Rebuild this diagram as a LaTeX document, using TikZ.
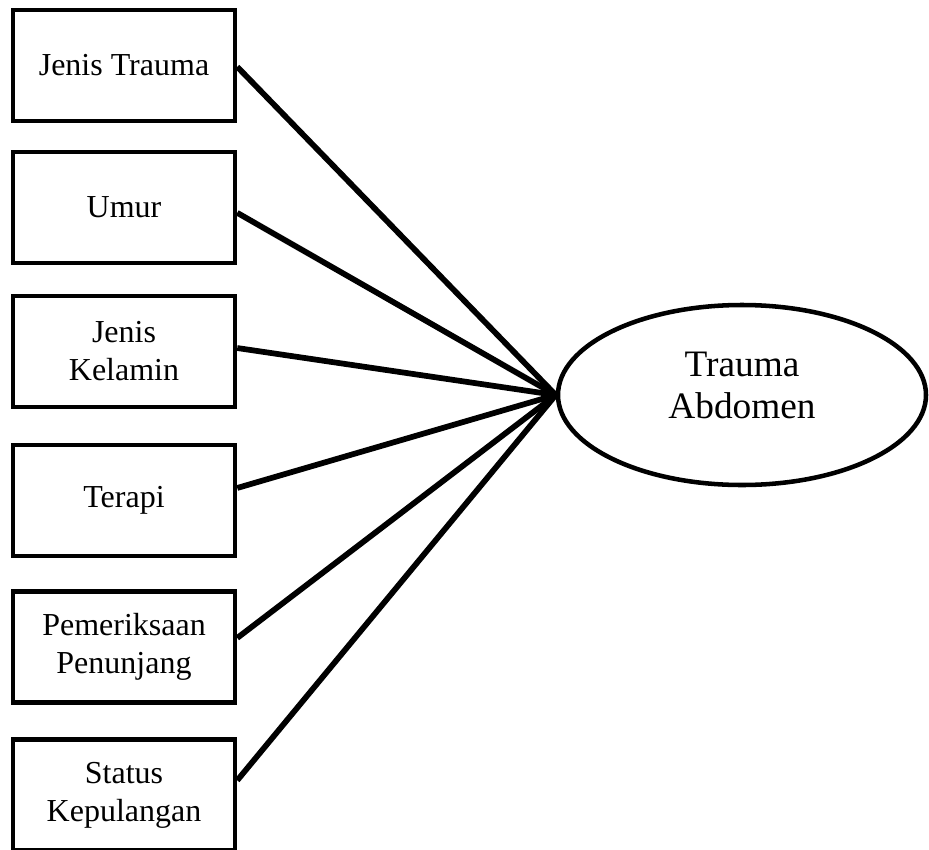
\documentclass[tikz,border=0pt]{standalone}
\usepackage{fontspec}
\setmainfont{Liberation Serif}
\usetikzlibrary{shapes.geometric}

\begin{document}
\begin{tikzpicture}[x=0.75pt, y=-0.75pt, line width=3.4pt]
    \tikzstyle{factor}=[rectangle, draw=black, minimum width=166.5pt, minimum height=83pt, inner sep=0pt, align=center, font=\fontsize{24}{28.5}\selectfont]
    \tikzstyle{outcome}=[ellipse, draw=black, minimum width=276pt, minimum height=135pt, inner sep=0pt, align=center, text depth=15pt, font=\fontsize{28}{31.5}\selectfont]
    \tikzstyle{link}=[line width=4.3pt]

    \useasboundingbox (0,0) rectangle (929,850);

    \node [factor] (jenis) at (124,65.5) {Jenis Trauma};
    \node [factor] (umur) at (124,207.5) {Umur};
    \node [factor] (kelamin) at (124,351.5) {Jenis\\Kelamin};
    \node [factor] (terapi) at (124,500.5) {Terapi};
    \node [factor] (periksa) at (124,647) {Pemeriksaan\\Penunjang};
    \node [factor] (pulang) at (124,795) {Status\\Kepulangan};

    \node [outcome] (trauma) at (742,395) {Trauma\\Abdomen};

    \draw [link] ([yshift=-1pt]jenis.east) -- (trauma.west);
    \draw [link] ([yshift=-4pt]umur.east) -- (trauma.west);
    \draw [link] ([yshift=2.6pt]kelamin.east) -- (trauma.west);
    \draw [link] ([yshift=9.4pt]terapi.east) -- (trauma.west);
    \draw [link] ([yshift=6.8pt]periksa.east) -- (trauma.west);
    \draw [link] ([yshift=11pt]pulang.east) -- (trauma.west);
\end{tikzpicture}
\end{document}
